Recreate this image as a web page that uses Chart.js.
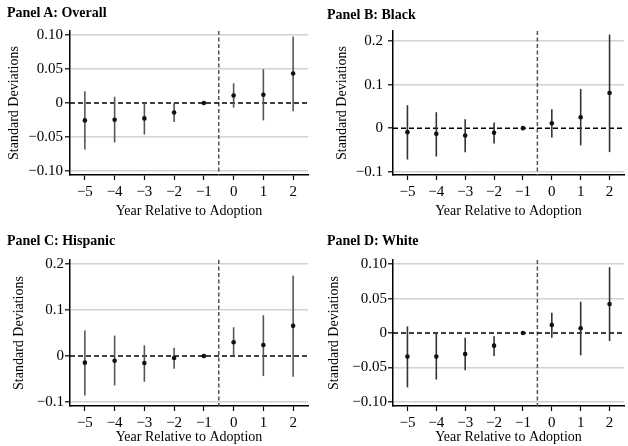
<!DOCTYPE html>
<html lang="en">
<head>
<meta charset="UTF-8">
<title>Event study by group</title>
<style>
  body { margin: 0; background: #fff; }
  #wrap { position: relative; width: 628px; height: 446px; }
  canvas { position: absolute; }
  .ptitle {
    position: absolute;
    font: bold 14px "Liberation Serif", "Times New Roman", serif;
    line-height: 16px;
    color: #000;
    white-space: nowrap;
  }
</style>
</head>
<body>
<div id="wrap">
  <canvas id="chartA" width="314" height="223" style="left:0;top:0"></canvas>
  <canvas id="chartB" width="314" height="223" style="left:314px;top:0"></canvas>
  <canvas id="chartC" width="314" height="223" style="left:0;top:223px"></canvas>
  <canvas id="chartD" width="314" height="223" style="left:314px;top:223px"></canvas>
  <div class="ptitle" style="left:7px;top:5px">Panel A: Overall</div>
  <div class="ptitle" style="left:327px;top:7px">Panel B: Black</div>
  <div class="ptitle" style="left:7px;top:233px">Panel C: Hispanic</div>
  <div class="ptitle" style="left:327px;top:233px">Panel D: White</div>
</div>

<script src="https://cdn.jsdelivr.net/npm/chart.js"></script>
<script>
// years relative to adoption (-1 is the reference year, no interval)
const years = [-5, -4, -3, -2, -1, 0, 1, 2];

const overallEst = [-0.0256, -0.0246, -0.0227, -0.0140, 0, 0.0111, 0.0121, 0.0435];
const overallLo  = [-0.0686, -0.0580, -0.0464, -0.0280, null, -0.0068, -0.0256, -0.0121];
const overallHi  = [ 0.0174,  0.0092,  0.0000,  0.0000, null,  0.0290,  0.0498,  0.0980];

const blackEst = [-0.0091, -0.0130, -0.0168, -0.0107, 0, 0.0114, 0.0251, 0.0807];
const blackLo  = [-0.0720, -0.0650, -0.0550, -0.0350, null, -0.0213, -0.0396, -0.0550];
const blackHi  = [ 0.0526,  0.0366,  0.0206,  0.0130, null,  0.0434,  0.0900,  0.2148];

const hispEst = [-0.0145, -0.0102, -0.0153, -0.0044, 0, 0.0298, 0.0240, 0.0655];
const hispLo  = [-0.0860, -0.0640, -0.0560, -0.0276, null, 0.0000, -0.0436, -0.0450];
const hispHi  = [ 0.0553,  0.0444,  0.0233,  0.0180, null, 0.0625,  0.0887,  0.1745];

const whiteEst = [-0.0343, -0.0343, -0.0304, -0.0184, 0, 0.0116, 0.0068, 0.0420];
const whiteLo  = [-0.0790, -0.0676, -0.0540, -0.0333, null, -0.0068, -0.0324, -0.0116];
const whiteHi  = [ 0.0097,  0.0000, -0.0068, -0.0048, null,  0.0295,  0.0454,  0.0957];

const yTicksNarrow = [-0.10, -0.05, 0, 0.05, 0.10];
const yTicksWide = [-0.1, 0, 0.1, 0.2];

const SERIF = '"Liberation Serif", "Times New Roman", serif';

function minus(s) { return s.replace('-', '\u2212'); }
function fmt2(v) { return v === 0 ? '0' : minus(v.toFixed(2)); }
function fmt1(v) { return v === 0 ? '0' : minus(v.toFixed(1)); }

// dashed reference lines + confidence intervals, drawn under the points
function intervalPlugin(lo, hi, barColor) {
  return {
    id: 'intervals',
    beforeDatasetsDraw(chart) {
      const ctx = chart.ctx, a = chart.chartArea;
      const x = chart.scales.x, y = chart.scales.y;
      ctx.save();
      ctx.lineWidth = 1.5;

      const vx = x.getPixelForValue(-0.5);
      ctx.strokeStyle = '#555';
      ctx.setLineDash([4, 2.5]);
      ctx.beginPath(); ctx.moveTo(vx, a.top); ctx.lineTo(vx, a.bottom); ctx.stroke();

      const zy = y.getPixelForValue(0);
      ctx.strokeStyle = '#000';
      ctx.setLineDash([5, 3]);
      ctx.beginPath(); ctx.moveTo(a.left, zy); ctx.lineTo(a.right, zy); ctx.stroke();

      ctx.setLineDash([]);
      ctx.strokeStyle = barColor;
      ctx.lineWidth = 1.6;
      for (let i = 0; i < years.length; i++) {
        if (lo[i] === null) continue;
        const px = x.getPixelForValue(years[i]);
        ctx.beginPath();
        ctx.moveTo(px, y.getPixelForValue(lo[i]));
        ctx.lineTo(px, y.getPixelForValue(hi[i]));
        ctx.stroke();
      }
      ctx.restore();
    }
  };
}

function makePanel(id, est, lo, hi, p) {
  return new Chart(document.getElementById(id), {
    type: 'scatter',
    data: {
      datasets: [{
        data: years.map((yr, i) => ({ x: yr, y: est[i] })),
        pointRadius: 2.3,
        pointBackgroundColor: '#111',
        pointBorderWidth: 0
      }]
    },
    options: {
      responsive: false,
      animation: false,
      devicePixelRatio: 1,
      layout: { padding: { top: p.top, right: p.right, left: 0, bottom: 0 } },
      plugins: { legend: { display: false }, tooltip: { enabled: false } },
      scales: {
        x: {
          type: 'linear', min: -5.5, max: 2.5,
          afterBuildTicks: s => { s.ticks = years.map(v => ({ value: v })); },
          afterFit: s => { s.height = p.xHeight; },
          grid: { drawOnChartArea: false, tickColor: '#000', tickLength: 5, tickWidth: 1.2 },
          border: { display: true, color: '#000', width: 1.5 },
          ticks: {
            color: '#000', padding: 3, autoSkip: false, maxRotation: 0,
            font: { family: SERIF, size: 15 },
            callback: v => minus(String(v))
          },
          title: {
            display: true, text: 'Year Relative to Adoption', color: '#000',
            font: { family: SERIF, size: 14 },
            padding: { top: 0, bottom: p.xTitlePad }
          }
        },
        y: {
          min: p.yMin, max: p.yMax,
          afterBuildTicks: s => { s.ticks = p.yTicks.map(v => ({ value: v })); },
          afterFit: s => { s.width = p.yWidth; },
          grid: {
            color: c => (c.tick && c.tick.value === 0) ? 'rgba(0,0,0,0)' : '#d2d2d2',
            lineWidth: 1.6, tickColor: '#000', tickLength: 5, tickWidth: 1.2
          },
          border: { display: true, color: '#000', width: 1.5 },
          ticks: {
            color: '#000', padding: p.yTickPad,
            font: { family: SERIF, size: 15 },
            callback: p.fmt
          },
          title: {
            display: true, text: 'Standard Deviations', color: '#000',
            font: { family: SERIF, size: 14 },
            padding: { top: p.yTitlePad, bottom: 0 }
          }
        }
      }
    },
    plugins: [intervalPlugin(lo, hi, p.barColor)]
  });
}

makePanel('chartA', overallEst, overallLo, overallHi, {
  top: 31, right: 6, yWidth: 70, xHeight: 48, yTitlePad: 6, yTickPad: 2, xTitlePad: 3,
  yMin: -0.106, yMax: 0.106, yTicks: yTicksNarrow, fmt: fmt2, barColor: '#555'
});
makePanel('chartB', blackEst, blackLo, blackHi, {
  top: 31, right: 0, yWidth: 79, xHeight: 48, yTitlePad: 20, yTickPad: 5, xTitlePad: 3,
  yMin: -0.1075, yMax: 0.223, yTicks: yTicksWide, fmt: fmt1, barColor: '#333'
});
makePanel('chartC', hispEst, hispLo, hispHi, {
  top: 37, right: 6, yWidth: 70, xHeight: 40, yTitlePad: 11, yTickPad: 1, xTitlePad: 0,
  yMin: -0.1087, yMax: 0.2087, yTicks: yTicksWide, fmt: fmt1, barColor: '#555'
});
makePanel('chartD', whiteEst, whiteLo, whiteHi, {
  top: 37, right: 0, yWidth: 79, xHeight: 40, yTitlePad: 12, yTickPad: 1, xTitlePad: 0,
  yMin: -0.106, yMax: 0.106, yTicks: yTicksNarrow, fmt: fmt2, barColor: '#333'
});
</script>
</body>
</html>
